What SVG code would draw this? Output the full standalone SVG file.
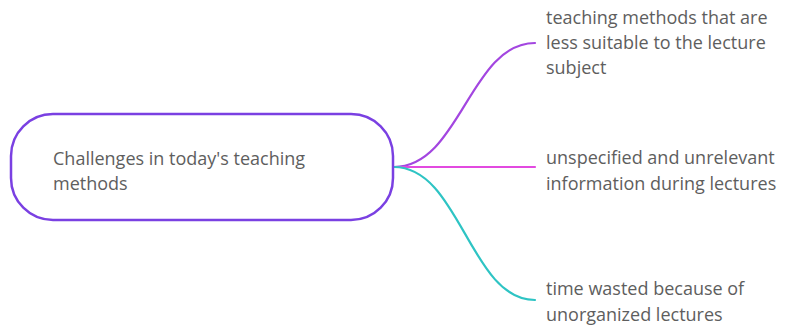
<svg xmlns="http://www.w3.org/2000/svg" width="785" height="330" viewBox="0 0 785 330">
<style>
.t{font-family:"Open Sans","Noto Sans",sans-serif;font-size:18px;fill:#5e5e5e}
.c{fill:none;stroke-width:2.2;stroke-linecap:round}
</style>
<rect width="785" height="330" fill="#ffffff"/>
<g id="connectors">
<path class="c" stroke="#a346e0" d="M394,167 C460,167 470,43 535,43"/>
<path class="c" stroke="#e24ae0" d="M394,167 L535,167"/>
<path class="c" stroke="#2ec4c4" d="M394,167 C460,167 470,300 535,300"/>
</g>
<g id="root">
<rect x="11" y="114" width="382" height="106" rx="42" ry="42" fill="#ffffff" stroke="#7a40e2" stroke-width="2.5"/>
<text class="t" x="53" y="165">Challenges in today's teaching</text>
<text class="t" x="53" y="190">methods</text>
</g>
<g id="n1">
<text class="t" x="546" y="24">teaching methods that are</text>
<text class="t" x="546" y="49">less suitable to the lecture</text>
<text class="t" x="546" y="74">subject</text>
</g>
<g id="n2">
<text class="t" x="546" y="164">unspecified and unrelevant</text>
<text class="t" x="546" y="190">information during lectures</text>
</g>
<g id="n3">
<text class="t" x="546" y="295">time wasted because of</text>
<text class="t" x="546" y="321">unorganized lectures</text>
</g>
</svg>
